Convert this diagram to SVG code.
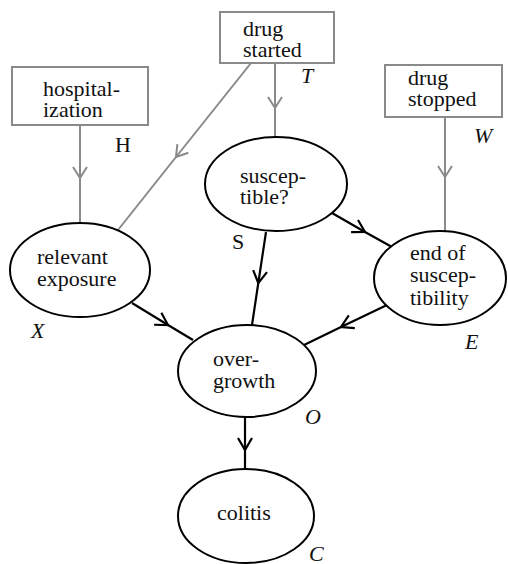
<svg xmlns="http://www.w3.org/2000/svg" width="508" height="564" viewBox="0 0 508 564">
  <style>
    text { font-family: 'Liberation Serif', 'DejaVu Serif', serif; font-size: 22px; fill: #111; }
    .it { font-style: italic; }
    .box { fill: #fff; stroke: #8a8a8a; stroke-width: 2; }
    .oval { fill: #fff; stroke: #000; stroke-width: 2; }
    .cause { fill: none; stroke: #8a8a8a; stroke-width: 2; marker-mid: url(#vGray); }
    .link { fill: none; stroke: #000; stroke-width: 2.2; marker-mid: url(#vBlack); }
  </style>
  <defs>
    <marker id="vBlack" markerUnits="userSpaceOnUse" orient="auto" refX="0" refY="0" markerWidth="30" markerHeight="30" viewBox="-15 -15 30 30" overflow="visible">
      <path d="M-12 -7 L0 0 L-12 7" fill="none" stroke="#000" stroke-width="2.2"/>
    </marker>
    <marker id="vGray" markerUnits="userSpaceOnUse" orient="auto" refX="0" refY="0" markerWidth="30" markerHeight="30" viewBox="-15 -15 30 30" overflow="visible">
      <path d="M-11 -7 L0 0 L-11 7" fill="none" stroke="#8a8a8a" stroke-width="2"/>
    </marker>
  </defs>

  <!-- connectors -->
  <g id="connectors">
    <path class="cause" d="M80 125 L80 178 L80 223"/>
    <path class="cause" d="M275 63 L275 108 L275 137"/>
    <path class="cause" d="M251 63 L176 157 L118 230"/>
    <path class="cause" d="M445 117 L445 177 L445 232"/>
    <path class="link" d="M132 303 L168 325 L193 340"/>
    <path class="link" d="M266 232 L258.3 283 L252 325"/>
    <path class="link" d="M332 213 L365 232 L392 247"/>
    <path class="link" d="M387 305 L341 327 L304 345"/>
    <path class="link" d="M245 417 L245 450 L245 468"/>
  </g>

  <!-- intervention boxes -->
  <g id="drug-started">
    <rect class="box" x="220" y="12" width="114" height="51"/>
    <text x="243" y="36">drug</text>
    <text x="243" y="57">started</text>
    <text class="it" x="301" y="83">T</text>
  </g>
  <g id="hospitalization">
    <rect class="box" x="12" y="67" width="136" height="58"/>
    <text x="43" y="96">hospital-</text>
    <text x="43" y="117">ization</text>
    <text x="115" y="152">H</text>
  </g>
  <g id="drug-stopped">
    <rect class="box" x="385" y="65" width="117" height="52"/>
    <text x="408" y="85">drug</text>
    <text x="408" y="106">stopped</text>
    <text class="it" x="474" y="143">W</text>
  </g>

  <!-- state nodes -->
  <g id="susceptible">
    <ellipse class="oval" cx="276" cy="184" rx="71" ry="47"/>
    <text x="240" y="183">suscep-</text>
    <text x="240" y="204">tible?</text>
    <text x="232" y="249">S</text>
  </g>
  <g id="relevant-exposure">
    <ellipse class="oval" cx="80" cy="270" rx="70" ry="47"/>
    <text x="37" y="264">relevant</text>
    <text x="37" y="286">exposure</text>
    <text class="it" x="31" y="338">X</text>
  </g>
  <g id="end-of-susceptibility">
    <ellipse class="oval" cx="440" cy="278" rx="66" ry="47"/>
    <text x="410" y="260">end of</text>
    <text x="410" y="282">suscep-</text>
    <text x="410" y="305">tibility</text>
    <text class="it" x="465" y="349">E</text>
  </g>
  <g id="overgrowth">
    <ellipse class="oval" cx="247" cy="371" rx="69" ry="46"/>
    <text x="213" y="366">over-</text>
    <text x="213" y="388">growth</text>
    <text class="it" x="305" y="424">O</text>
  </g>
  <g id="colitis">
    <ellipse class="oval" cx="246" cy="516" rx="68" ry="47"/>
    <text x="217" y="520">colitis</text>
    <text class="it" x="309" y="561">C</text>
  </g>
</svg>
